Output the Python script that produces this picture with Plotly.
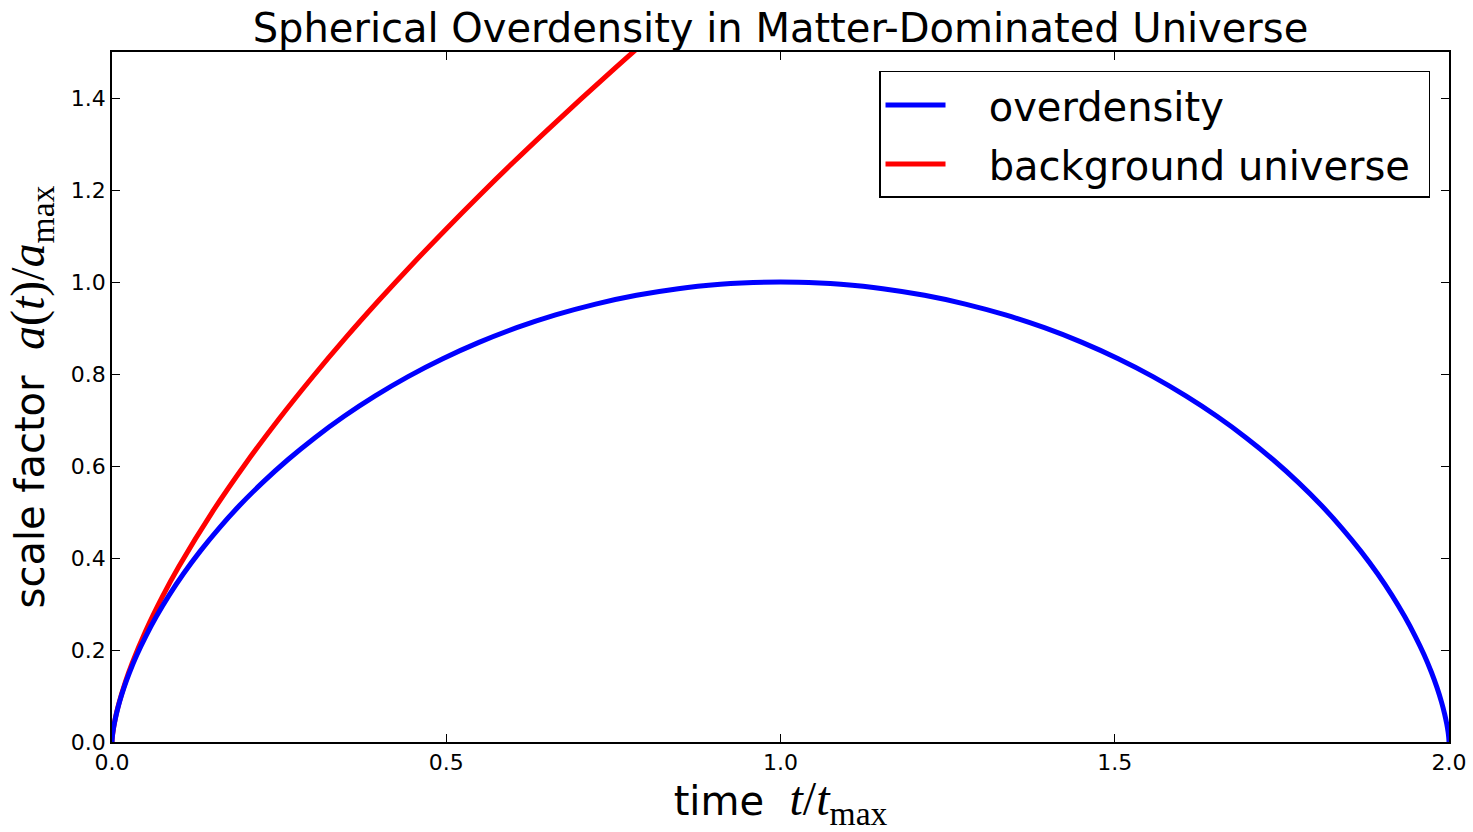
import plotly.graph_objects as go

# Overdensity (closed universe)
t_over = [0.0, 0.00005, 0.0004, 0.0014, 0.0034, 0.0066, 0.0113, 0.0178, 0.0263, 0.0371,
          0.0505, 0.0665, 0.0853, 0.1071, 0.1320, 0.1600, 0.1911, 0.2255, 0.2630, 0.3036,
          0.3472, 0.3937, 0.4429, 0.4948, 0.5489, 0.6053, 0.6635, 0.7234, 0.7846, 0.8470,
          0.9100, 0.9417, 1.0,
          1.0583, 1.0900, 1.1530, 1.2154, 1.2766, 1.3365, 1.3947, 1.4511, 1.5052, 1.5571,
          1.6063, 1.6528, 1.6964, 1.7370, 1.7745, 1.8089, 1.8400, 1.8680, 1.8929, 1.9147,
          1.9335, 1.9495, 1.9629, 1.9737, 1.9822, 1.9887, 1.9934, 1.9966, 1.9986, 1.9996,
          1.99995, 2.0]
a_over = [0.0, 0.0025, 0.0100, 0.0223, 0.0395, 0.0612, 0.0873, 0.1176, 0.1516, 0.1892,
          0.2298, 0.2732, 0.3188, 0.3663, 0.4150, 0.4646, 0.5146, 0.5644, 0.6136, 0.6616,
          0.7081, 0.7524, 0.7943, 0.8331, 0.8687, 0.9006, 0.9284, 0.9520, 0.9711, 0.9855,
          0.9950, 0.9979, 1.0,
          0.9979, 0.9950, 0.9855, 0.9711, 0.9520, 0.9284, 0.9006, 0.8687, 0.8331, 0.7943,
          0.7524, 0.7081, 0.6616, 0.6136, 0.5644, 0.5146, 0.4646, 0.4150, 0.3663, 0.3188,
          0.2732, 0.2298, 0.1892, 0.1516, 0.1176, 0.0873, 0.0612, 0.0395, 0.0223, 0.0100,
          0.0025, 0.0]

# Background (Einstein-de Sitter) universe
t_bg = [0.0, 0.0002, 0.001, 0.005, 0.01, 0.02, 0.03, 0.05, 0.075, 0.1, 0.15, 0.2, 0.25,
        0.3, 0.35, 0.4, 0.45, 0.5, 0.55, 0.6, 0.65, 0.7, 0.75, 0.8, 0.9]
a_bg = [0.0, 0.0061, 0.0177, 0.0518, 0.0822, 0.1305, 0.1710, 0.2403, 0.3149, 0.3815,
        0.4999, 0.6056, 0.7027, 0.7935, 0.8795, 0.9613, 1.0398, 1.1154, 1.1887, 1.2597,
        1.3286, 1.3960, 1.4617, 1.526, 1.651]

x_ticks = [0.0, 0.5, 1.0, 1.5, 2.0]
y_ticks = [0.0, 0.2, 0.4, 0.6, 0.8, 1.0, 1.2, 1.4]

MATH = "font-family:'Liberation Serif', 'DejaVu Serif', serif;font-size:48px"
NB = "\u00a0"

fig = go.Figure()
fig.add_trace(go.Scatter(x=t_bg, y=a_bg, mode="lines", name=NB * 3 + "background universe" + NB,
                         line=dict(color="#ff0000", width=5, shape="spline", smoothing=1.0),
                         legendrank=2, legendgroup="b"))
fig.add_trace(go.Scatter(x=t_over, y=a_over, mode="lines", name=NB * 3 + "overdensity",
                         line=dict(color="#0000ff", width=5, shape="spline", smoothing=1.0),
                         legendrank=1, legendgroup="a"))

axis_common = dict(showline=True, linecolor="black", linewidth=1.5, mirror="allticks",
                   ticks="inside", ticklen=8, tickwidth=1.2, tickcolor="black",
                   showgrid=False, zeroline=False, automargin=False,
                   tickfont=dict(family="DejaVu Sans", size=22, color="black"))

fig.update_layout(
    width=1473, height=832,
    paper_bgcolor="white", plot_bgcolor="white",
    margin=dict(l=112, r=24, t=52, b=90),
    title=dict(text="Spherical Overdensity in Matter-Dominated Universe",
               x=0.5, xref="paper", xanchor="center", y=0.966, yanchor="middle",
               font=dict(family="DejaVu Sans", size=40, color="black")),
    xaxis=dict(range=[0, 2.0], tickvals=x_ticks, ticktext=[f"{v:.1f}" for v in x_ticks],
               title=dict(text=f"time  <span style=\"{MATH}\"><i>t</i>/<i>t</i><sub>max</sub></span>",
                          font=dict(family="DejaVu Sans", size=40, color="black"), standoff=8),
               **axis_common),
    yaxis=dict(range=[0, 1.5], tickvals=y_ticks, ticktext=[f"{v:.1f}" for v in y_ticks],
               title=dict(text=f"scale factor  <span style=\"{MATH}\"><i>a</i>(<i>t</i>)/<i>a</i><sub>max</sub></span>",
                          font=dict(family="DejaVu Sans", size=40, color="black"), standoff=14),
               **axis_common),
    legend=dict(x=0.9858, y=0.9725, xanchor="right", yanchor="top",
                bordercolor="black", borderwidth=1.5, bgcolor="white",
                font=dict(family="DejaVu Sans", size=40, color="black"),
                tracegroupgap=4, itemwidth=60),
    showlegend=True,
)

fig.write_html("out.html", config={"displayModeBar": False},
               post_script="document.body.style.margin='0px';document.body.style.overflow='hidden';")
